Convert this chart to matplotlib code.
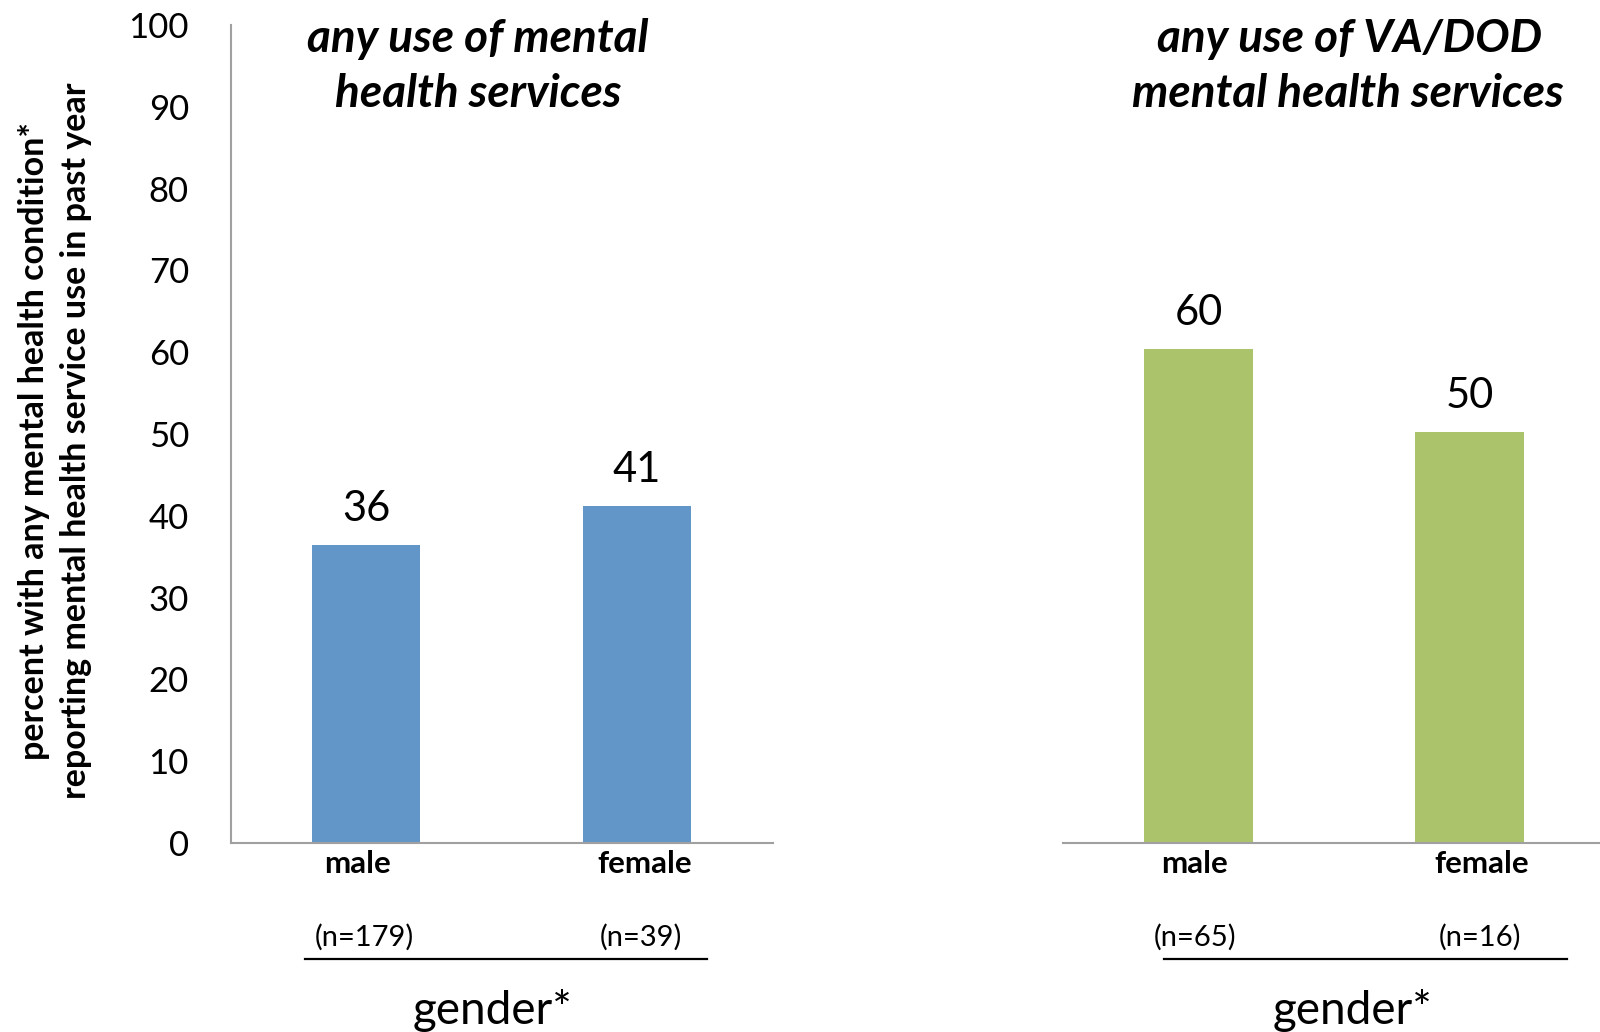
import matplotlib
matplotlib.use("Agg")
import matplotlib.pyplot as plt
from matplotlib.transforms import ScaledTranslation

plt.rcParams['font.family'] = ['Lato', 'DejaVu Sans']

# ---- data ----
categories = ["male", "female"]
panel_titles = [["any use of mental", "health services"],
                ["any use of VA/DOD", "mental health services"]]
any_use = [36.4, 41.2]
any_use_labels = ["36", "41"]
any_use_n = ["(n=179)", "(n=39)"]
vadod_use = [60.4, 50.2]
vadod_use_labels = ["60", "50"]
vadod_use_n = ["(n=65)", "(n=16)"]
yticks = [0, 10, 20, 30, 40, 50, 60, 70, 80, 90, 100]
ylabel_lines = ["percent with any mental health condition*",
                "reporting mental health service use in past year"]
xlabel = "gender*"

W, H = 1600, 1032
fig = plt.figure(figsize=(W / 100, H / 100), dpi=100)


def fx(px):
    return px / W


def fy(py):
    return 1 - py / H


BLUE = "#6296C8"
GREEN = "#ABC46C"
AXC = "#A0A0A0"

panels = [
    dict(left=230.6, vals=any_use, labs=any_use_labels, ns=any_use_n, color=BLUE,
         line=(-0.225, 1.258), title_x=(478, 478), xl=492, yaxis=True,
         cat_off=(-9, 8), n_off=(-2, 4)),
    dict(left=1063, vals=vadod_use, labs=vadod_use_labels, ns=vadod_use_n, color=GREEN,
         line=(-0.127, 1.36), title_x=(1350, 1348), xl=1352, yaxis=False,
         cat_off=(-4, 12), n_off=(-3, 10)),
]

for i, p in enumerate(panels):
    ax = fig.add_axes([fx(p["left"]), fy(843), 542 / W, 818 / H])
    x = list(range(len(categories)))
    ax.bar(x, p["vals"], width=0.4, color=p["color"], zorder=2)
    ax.set_xlim(-0.5, 1.5)
    ax.set_ylim(0, 100)
    for s in ["top", "right"]:
        ax.spines[s].set_visible(False)
    ax.spines["bottom"].set_color(AXC)
    ax.spines["bottom"].set_linewidth(1.5)
    if p["yaxis"]:
        ax.spines["left"].set_color(AXC)
        ax.spines["left"].set_linewidth(1.5)
        ax.set_yticks(yticks)
        ax.tick_params(axis="y", length=0, pad=30, labelsize=25)
    else:
        ax.spines["left"].set_visible(False)
        ax.set_yticks([])
    ax.set_xticks(x)
    ax.set_xticklabels(categories, fontweight="bold", fontsize=22.5)
    ax.tick_params(axis="x", length=0, pad=5)
    for lbl, off in zip(ax.get_xticklabels(), p["cat_off"]):
        lbl.set_transform(lbl.get_transform() +
                          ScaledTranslation(off / 100, 0, fig.dpi_scale_trans))

    for xi, v, lab in zip(x, p["vals"], p["labs"]):
        ax.annotate(lab, (xi, v), xytext=(0, 17.5), textcoords="offset points",
                    ha="center", va="baseline", fontsize=30)

    tr = ax.get_xaxis_transform()
    for xi, n, off in zip(x, p["ns"], p["n_off"]):
        ax.text(xi, -0.115, n, ha="center", va="center", fontsize=21,
                transform=tr + ScaledTranslation(off / 100, 0, fig.dpi_scale_trans))
    ax.plot(p["line"], [-0.1418, -0.1418], transform=tr, color="black",
            lw=1.6, clip_on=False)

    fig.text(fx(p["title_x"][0]), fy(52), panel_titles[i][0], ha="center",
             va="baseline", fontsize=33, fontweight="bold", fontstyle="italic")
    fig.text(fx(p["title_x"][1]), fy(107), panel_titles[i][1], ha="center",
             va="baseline", fontsize=33, fontweight="bold", fontstyle="italic")
    fig.text(fx(p["xl"]), fy(1024), xlabel, ha="center", va="baseline", fontsize=33)

fig.text(fx(34), fy(441), ylabel_lines[0], rotation=90, ha="center", va="center",
         fontsize=24.5, fontweight="bold")
fig.text(fx(76), fy(441), ylabel_lines[1], rotation=90, ha="center", va="center",
         fontsize=24.5, fontweight="bold")

fig.savefig("out.png", dpi=100)
